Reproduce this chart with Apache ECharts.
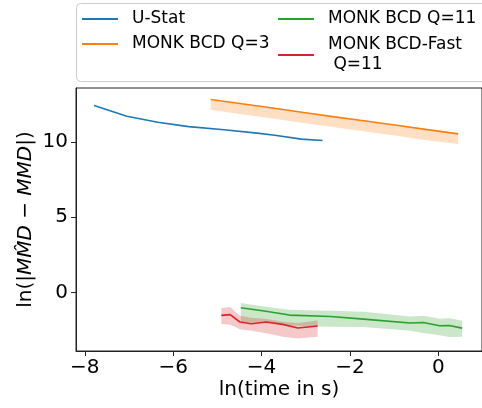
<!DOCTYPE html>
<html>
<head>
<meta charset="utf-8">
<script src="https://cdn.jsdelivr.net/npm/echarts@6/dist/echarts.min.js"></script>
<style>
  html, body { margin: 0; padding: 0; background: #fff; }
  #chart { width: 482px; height: 408px; }
</style>
</head>
<body>
<div id="chart"></div>
<script>
// U-Stat
const ustatX = [-7.79, -7.05, -6.35, -5.65, -4.85, -4.1, -3.7, -3.1, -2.62];
const ustatY = [12.44, 11.72, 11.32, 11.03, 10.82, 10.6, 10.46, 10.2, 10.11];

// MONK BCD Q=3
const q3X = [-5.15, -4.45, -3.75, -3.05, -2.35, -1.65, -0.95, -0.25, 0.45];
const q3Y = [12.84, 12.55, 12.27, 11.97, 11.68, 11.40, 11.12, 10.83, 10.55];
const q3Lo = [12.15, 11.85, 11.57, 11.27, 10.98, 10.70, 10.42, 10.13, 9.87];
const q3Hi = [12.86, 12.57, 12.29, 11.99, 11.70, 11.42, 11.14, 10.85, 10.57];

// MONK BCD Q=11
const q11X = [-4.47, -3.9, -3.37, -2.44, -1.69, -0.64, -0.34, 0.03, 0.25, 0.54];
const q11Y = [-1.02, -1.25, -1.51, -1.6, -1.78, -2.04, -2.0, -2.22, -2.2, -2.38];
const q11Lo = [-1.95, -2.05, -2.2, -2.28, -2.31, -2.55, -2.7, -2.85, -2.97, -2.95];
const q11Hi = [-0.7, -0.95, -1.15, -1.22, -1.29, -1.6, -1.55, -1.75, -1.72, -1.88];

// MONK BCD-Fast Q=11
const fastX = [-4.91, -4.71, -4.49, -4.23, -3.89, -3.52, -3.18, -2.73];
const fastY = [-1.53, -1.48, -1.97, -2.09, -1.97, -2.13, -2.37, -2.24];
const fastLo = [-2.1, -2.15, -2.45, -2.55, -2.72, -2.96, -3.07, -2.96];
const fastHi = [-1.04, -0.97, -1.55, -1.69, -1.77, -1.95, -2.04, -1.87];

const xTicks = [-8, -6, -4, -2, 0];
const yTicks = [0, 5, 10];

const colors = {
  blue: '#1f77b4',
  orange: '#ff7f0e',
  green: '#2ca02c',
  red: '#d62728',
};

const font = 'DejaVu Sans';
const minus = (v) => String(v).replace('-', '\u2212');

const zip = (xs, ys) => xs.map((x, i) => [x, ys[i]]);

const lineSeries = (name, xs, ys, color) => ({
  name,
  type: 'line',
  data: zip(xs, ys),
  showSymbol: false,
  symbol: 'none',
  color,
  lineStyle: { width: 1.6, color },
  z: 3,
});

// filled band between lo and hi, one polygon
const bandSeries = (name, xs, lo, hi, color) => ({
  name,
  type: 'custom',
  silent: true,
  z: 2,
  data: xs.map((x, i) => [x, lo[i], hi[i]]),
  encode: { x: 0, y: [1, 2] },
  renderItem: (params, api) => {
    if (params.dataIndex !== 0) return null;
    const top = xs.map((x, i) => api.coord([x, hi[i]]));
    const bottom = xs.map((x, i) => api.coord([x, lo[i]])).reverse();
    return {
      type: 'polygon',
      shape: { points: top.concat(bottom) },
      style: { fill: color, opacity: 0.25 },
    };
  },
});

const legendBase = {
  orient: 'vertical',
  padding: 0,
  icon: 'rect',
  itemWidth: 36,
  itemHeight: 2,
  textStyle: {
    fontFamily: font,
    fontSize: 17,
    lineHeight: 20,
    color: '#000',
    padding: [0, 0, 0, 9],
  },
};

const chart = echarts.init(document.getElementById('chart'));

chart.setOption({
  animation: false,
  backgroundColor: '#fff',
  textStyle: { fontFamily: font },
  graphic: [
    {
      type: 'rect',
      z: 0,
      shape: { x: 76.5, y: 3.5, width: 430, height: 78, r: 4 },
      style: { fill: '#fff', stroke: '#cccccc', lineWidth: 1 },
    },
  ],
  legend: [
    { ...legendBase, left: 82, top: 9, data: ['U-Stat'] },
    { ...legendBase, left: 82, top: 34, data: ['MONK BCD Q=3'] },
    { ...legendBase, left: 278, top: 9, data: ['MONK BCD Q=11'] },
    { ...legendBase, left: 278, top: 35, data: ['MONK BCD-Fast\n Q=11'] },
  ],
  grid: {
    left: 76,
    right: -4,
    top: 88,
    bottom: 57,
    show: true,
    borderColor: '#222',
    borderWidth: 1,
    backgroundColor: 'transparent',
  },
  xAxis: {
    type: 'value',
    min: -8.2,
    max: 0.99,
    name: 'ln(time in s)',
    nameLocation: 'middle',
    nameGap: 29,
    nameMoveOverlap: false,
    nameTextStyle: { fontFamily: font, fontSize: 20, color: '#000' },
    axisLine: { show: true, onZero: false, lineStyle: { color: '#222', width: 1 } },
    axisTick: { show: true, length: 5, lineStyle: { color: '#222' }, customValues: xTicks },
    axisLabel: {
      customValues: xTicks,
      fontFamily: font,
      fontSize: 20,
      color: '#000',
      margin: 7,
      formatter: minus,
    },
    splitLine: { show: false },
  },
  yAxis: {
    type: 'value',
    min: -3.9,
    max: 13.6,
    name: 'ln(|{i|MM\u0302D} \u2212 {i|MMD}|)',
    nameLocation: 'middle',
    nameRotate: 90,
    nameGap: 40,
    nameMoveOverlap: false,
    nameTextStyle: {
      fontFamily: font,
      fontSize: 20,
      color: '#000',
      rich: {
        i: { fontFamily: font, fontSize: 20, fontStyle: 'italic', color: '#000' },
      },
    },
    axisLine: { show: true, onZero: false, lineStyle: { color: '#222', width: 1 } },
    axisTick: { show: true, length: 5, lineStyle: { color: '#222' }, customValues: yTicks },
    axisLabel: {
      customValues: yTicks,
      fontFamily: font,
      fontSize: 20,
      color: '#000',
      margin: 8,
      formatter: minus,
    },
    splitLine: { show: false },
  },
  series: [
    lineSeries('U-Stat', ustatX, ustatY, colors.blue),
    bandSeries('band-q3', q3X, q3Lo, q3Hi, colors.orange),
    lineSeries('MONK BCD Q=3', q3X, q3Y, colors.orange),
    bandSeries('band-q11', q11X, q11Lo, q11Hi, colors.green),
    lineSeries('MONK BCD Q=11', q11X, q11Y, colors.green),
    bandSeries('band-fast', fastX, fastLo, fastHi, colors.red),
    lineSeries('MONK BCD-Fast\n Q=11', fastX, fastY, colors.red),
  ],
});
</script>
</body>
</html>
